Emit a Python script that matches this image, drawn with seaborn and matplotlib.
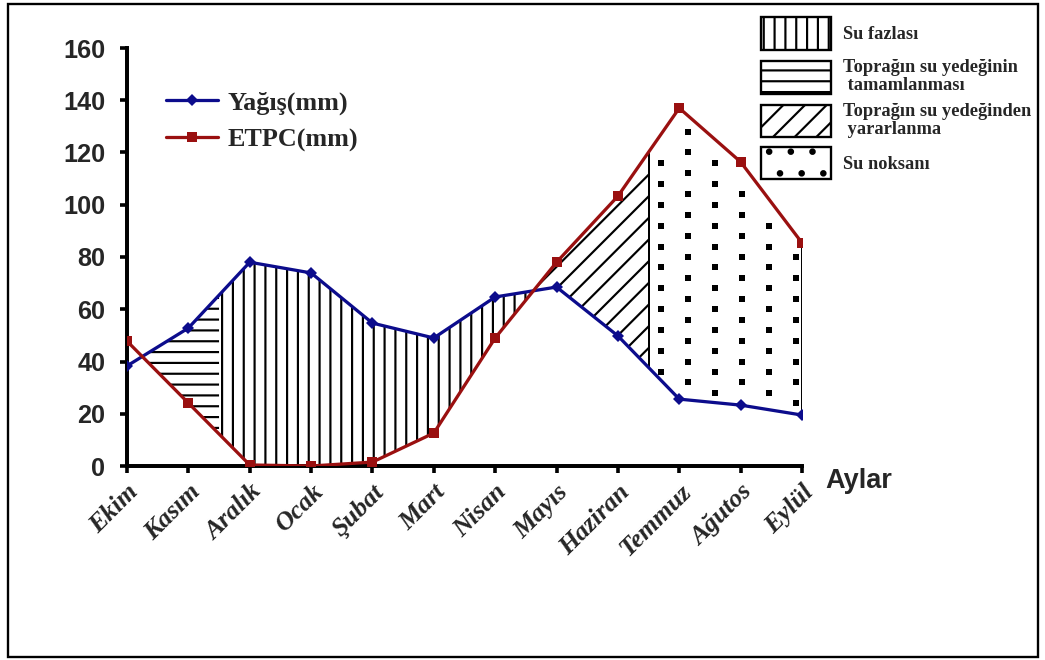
import numpy as np
import pandas as pd
import matplotlib
matplotlib.use("Agg")
import matplotlib.pyplot as plt
from matplotlib.patches import Patch, Rectangle
import seaborn as sns

# Data
months = ['Ekim', 'Kasım', 'Aralık', 'Ocak', 'Şubat', 'Mart',
          'Nisan', 'Mayıs', 'Haziran', 'Temmuz', 'Ağutos', 'Eylül']
yagis = [38.3, 52.8, 78.0, 73.9, 54.7, 49.0, 64.7, 68.5, 49.8, 25.6, 23.3, 19.5]
etpc = [47.8, 24.1, 0.4, 0.0, 1.5, 12.6, 49.0, 78.0, 103.3, 137.0, 116.4, 85.4]
yticks = [0, 20, 40, 60, 80, 100, 120, 140, 160]

# season boundaries (in month index units)
replenish_end = 1.5
surplus_end = 7.0
usage_start = 6.0
deficit_start = 8.5

legend_labels = ['Su fazlası', 'Toprağın su yedeğinin\n tamamlanması',
                 'Toprağın su yedeğinden\n yararlanma', 'Su noksanı']
legend_hatches = ['||', '--', '//', '.']

sns.set_theme(style='white')
plt.rcParams['font.family'] = ['Liberation Serif', 'DejaVu Serif']
plt.rcParams['hatch.linewidth'] = 1.2
plt.rcParams['hatch.color'] = 'black'

DPI = 130
fig = plt.figure(figsize=(1045 / DPI, 660 / DPI), dpi=DPI)
ax = fig.add_axes([127 / 1045, 1 - 466 / 660, 675 / 1045, 418 / 660])

x = np.arange(len(months))
df = pd.DataFrame({'x': x, 'yagis': yagis, 'etpc': etpc})

# hatched water-balance areas
xf = np.linspace(0, len(months) - 1, 2201)
bf = np.interp(xf, x, yagis)
rf = np.interp(xf, x, etpc)
kw = dict(facecolor='none', edgecolor='black', linewidth=0, zorder=1)
ax.fill_between(xf, rf, bf, where=(xf <= replenish_end) & (bf >= rf), hatch='--', **kw)
ax.fill_between(xf, rf, bf, where=(xf >= replenish_end) & (xf <= surplus_end) & (bf >= rf),
                hatch='||', **kw)
ax.fill_between(xf, bf, rf, where=(xf >= usage_start) & (xf <= deficit_start) & (rf >= bf),
                hatch='//', **kw)
for xv in [deficit_start, len(months) - 1]:
    ax.vlines(xv, np.interp(xv, x, yagis), np.interp(xv, x, etpc), color='black', lw=1.1, zorder=1)

# "Su noksanı" dots: sparse square dots on a staggered grid inside the deficit area
gx, gy = np.meshgrid(np.arange(deficit_start + 0.2, len(months) - 1, 0.44), np.arange(4, 140, 8.0))
gy = gy + (np.round((gx - deficit_start) / 0.44) % 2) * 4
bx = np.interp(gx, x, yagis)
rx = np.interp(gx, x, etpc)
inside = (gy > bx + 2.5) & (gy < rx - 4)
ax.scatter(gx[inside], gy[inside], marker='s', s=9, color='black', linewidths=0, zorder=1)

sns.lineplot(data=df, x='x', y='yagis', ax=ax, color='#0c0c8c', marker='D', markersize=5,
             markeredgewidth=0, linewidth=1.8, label='Yağış(mm)', zorder=3)
sns.lineplot(data=df, x='x', y='etpc', ax=ax, color='#9a1010', marker='s', markersize=5.8,
             markeredgewidth=0, linewidth=1.8, label='ETPC(mm)', zorder=3)

ax.set_xlim(0, len(months) - 1)
ax.set_ylim(0, 160)
ax.set_xticks(x)
ax.set_xticklabels(months, rotation=45, ha='right', rotation_mode='anchor',
                   fontsize=14.5, fontweight='bold', fontstyle='italic')
ax.set_yticks(yticks)
ax.set_yticklabels([str(v) for v in yticks], fontsize=14, fontweight='bold',
                   family=['Liberation Sans', 'DejaVu Sans'])
ax.set_xlabel('')
ax.set_ylabel('')
ax.tick_params(axis='both', direction='out', length=4, width=2, color='black',
               left=True, bottom=True)
ax.tick_params(axis='x', pad=4)
ax.tick_params(axis='y', pad=8)
for s in ['top', 'right']:
    ax.spines[s].set_visible(False)
for s in ['left', 'bottom']:
    ax.spines[s].set_linewidth(2.2)
    ax.spines[s].set_color('black')
ax.set_facecolor('none')

ax.text(1.035, -0.035, 'Aylar', transform=ax.transAxes, ha='left', va='center',
        fontsize=15, fontweight='bold', family=['Liberation Sans', 'DejaVu Sans'])

ax.legend(loc='upper left', bbox_to_anchor=(153 / 1045, 1 - 78 / 660),
          bbox_transform=fig.transFigure, frameon=False, borderpad=0,
          handlelength=2.0, handletextpad=0.35, labelspacing=0.5,
          prop={'family': 'Liberation Serif', 'weight': 'bold', 'size': 14.5})

handles = [Patch(facecolor='white', edgecolor='black', linewidth=1.3, hatch=h) for h in legend_hatches]
leg = fig.legend(handles, legend_labels, loc='upper left', bbox_to_anchor=(752 / 1045, 1 - 8 / 660),
                 frameon=False, borderpad=0, handlelength=3.8, handleheight=2.35,
                 handletextpad=0.65, labelspacing=0.5,
                 prop={'family': 'Liberation Serif', 'weight': 'bold', 'size': 10.2})
for t in leg.get_texts():
    t.set_linespacing(1.05)

fig.patches.append(Rectangle((8 / 1045, 3 / 660), 1030 / 1045, 653 / 660, transform=fig.transFigure,
                             fill=False, edgecolor='black', linewidth=1.3))

fig.savefig('out.png', dpi=DPI)
